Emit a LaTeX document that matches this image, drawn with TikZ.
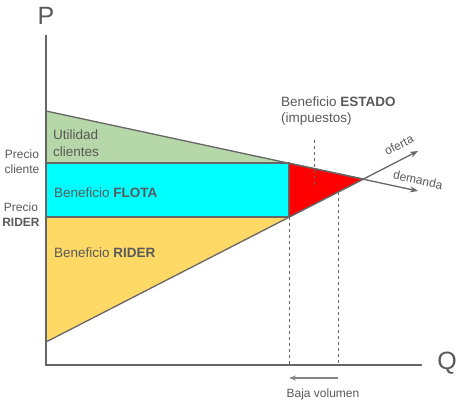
\documentclass[tikz,border=0pt]{standalone}
\usepackage{fontspec}
\setmainfont{Liberation Sans}
\usetikzlibrary{arrows.meta}
\definecolor{txtgray}{HTML}{595959}
\definecolor{axgray}{HTML}{666666}
\definecolor{clientgreen}{HTML}{B6D7A8}
\definecolor{flotacyan}{HTML}{00FFFF}
\definecolor{rideryellow}{HTML}{FFD966}
\definecolor{estadored}{HTML}{FF0000}

\begin{document}
\begin{tikzpicture}[x=1pt, y=-1pt,
  lbl/.style={text=txtgray, font=\fontsize{13.5}{16.5}\selectfont, inner sep=0pt},
  small/.style={text=txtgray, font=\fontsize{12}{15}\selectfont, inner sep=0pt},
  curve/.style={draw=axgray, line width=1.3pt},
  guide/.style={draw=axgray, dashed, line width=0.8pt}]
\useasboundingbox (0,0) rectangle (461,404);

% key points
\coordinate (O) at (46,365);
\coordinate (Ptop) at (46,35);
\coordinate (Qend) at (422,365);
\coordinate (D0) at (46,111);
\coordinate (Dc) at (289,163);
\coordinate (E) at (364,179);
\coordinate (Dend) at (418,191);
\coordinate (S0) at (46,342);
\coordinate (Sr) at (289,217);
\coordinate (Send) at (418,151);
\coordinate (Pc) at (46,163);
\coordinate (Pr) at (46,217);

% areas
\fill[clientgreen] (D0) -- (Dc) -- (Pc) -- cycle;
\fill[rideryellow] (Pr) -- (Sr) -- (S0) -- cycle;
\draw[fill=flotacyan, draw=axgray, line width=1.3pt] (Pc) rectangle (Sr);
\draw[fill=estadored, draw=axgray, line width=1pt] (Dc) -- (E) -- (Sr) -- cycle;

% dashed guides
\coordinate (Q1) at (289,365);
\coordinate (S2) at (338,192);
\coordinate (Q2) at (338,365);
\coordinate (Ttop) at (314,140);
\coordinate (Tin) at (314,188);
\draw[guide] (Sr) -- (Q1);
\draw[guide] (S2) -- (Q2);
\draw[guide] (Ttop) -- (Tin);

% demand and supply
\draw[curve, -{Stealth[length=8pt, width=6pt]}] (D0) -- (Dend);
\draw[curve, -{Stealth[length=8pt, width=6pt]}] (S0) -- (Send);

% axes
\draw[axgray, line width=1.6pt] (Ptop) -- (O) -- (Qend);
\node[text=txtgray, font=\fontsize{25}{25}\selectfont] (P) at (46,16) {P};
\node[text=txtgray, font=\fontsize{25}{25}\selectfont] (Q) at (447,363) {Q};

% labels
\node[lbl, anchor=west, align=left] (util) at (53,143) {Utilidad\\clientes};
\node[lbl, anchor=west] (flota) at (54,193) {Beneficio \textbf{FLOTA}};
\node[lbl, anchor=west] (rider) at (54,253) {Beneficio \textbf{RIDER}};
\node[lbl, anchor=west, align=left] (estado) at (281,111) {Beneficio \textbf{ESTADO}\\(impuestos)};
\node[small, align=center] (pcli) at (22,162) {Precio\\cliente};
\node[small, align=center] (prid) at (21,215) {Precio\\\textbf{RIDER}};
\node[small, rotate=26.6] (oferta) at (399,145) {oferta};
\node[small, rotate=-12] (demanda) at (418,180) {demanda};

% volume drop
\coordinate (Vr) at (338,378);
\coordinate (Vl) at (289,378);
\draw[axgray!80, line width=1.2pt, -{Stealth[length=7pt, width=5pt]}] (Vr) -- (Vl);
\node[small] (baja) at (323,394) {Baja volumen};

\end{tikzpicture}
\end{document}
